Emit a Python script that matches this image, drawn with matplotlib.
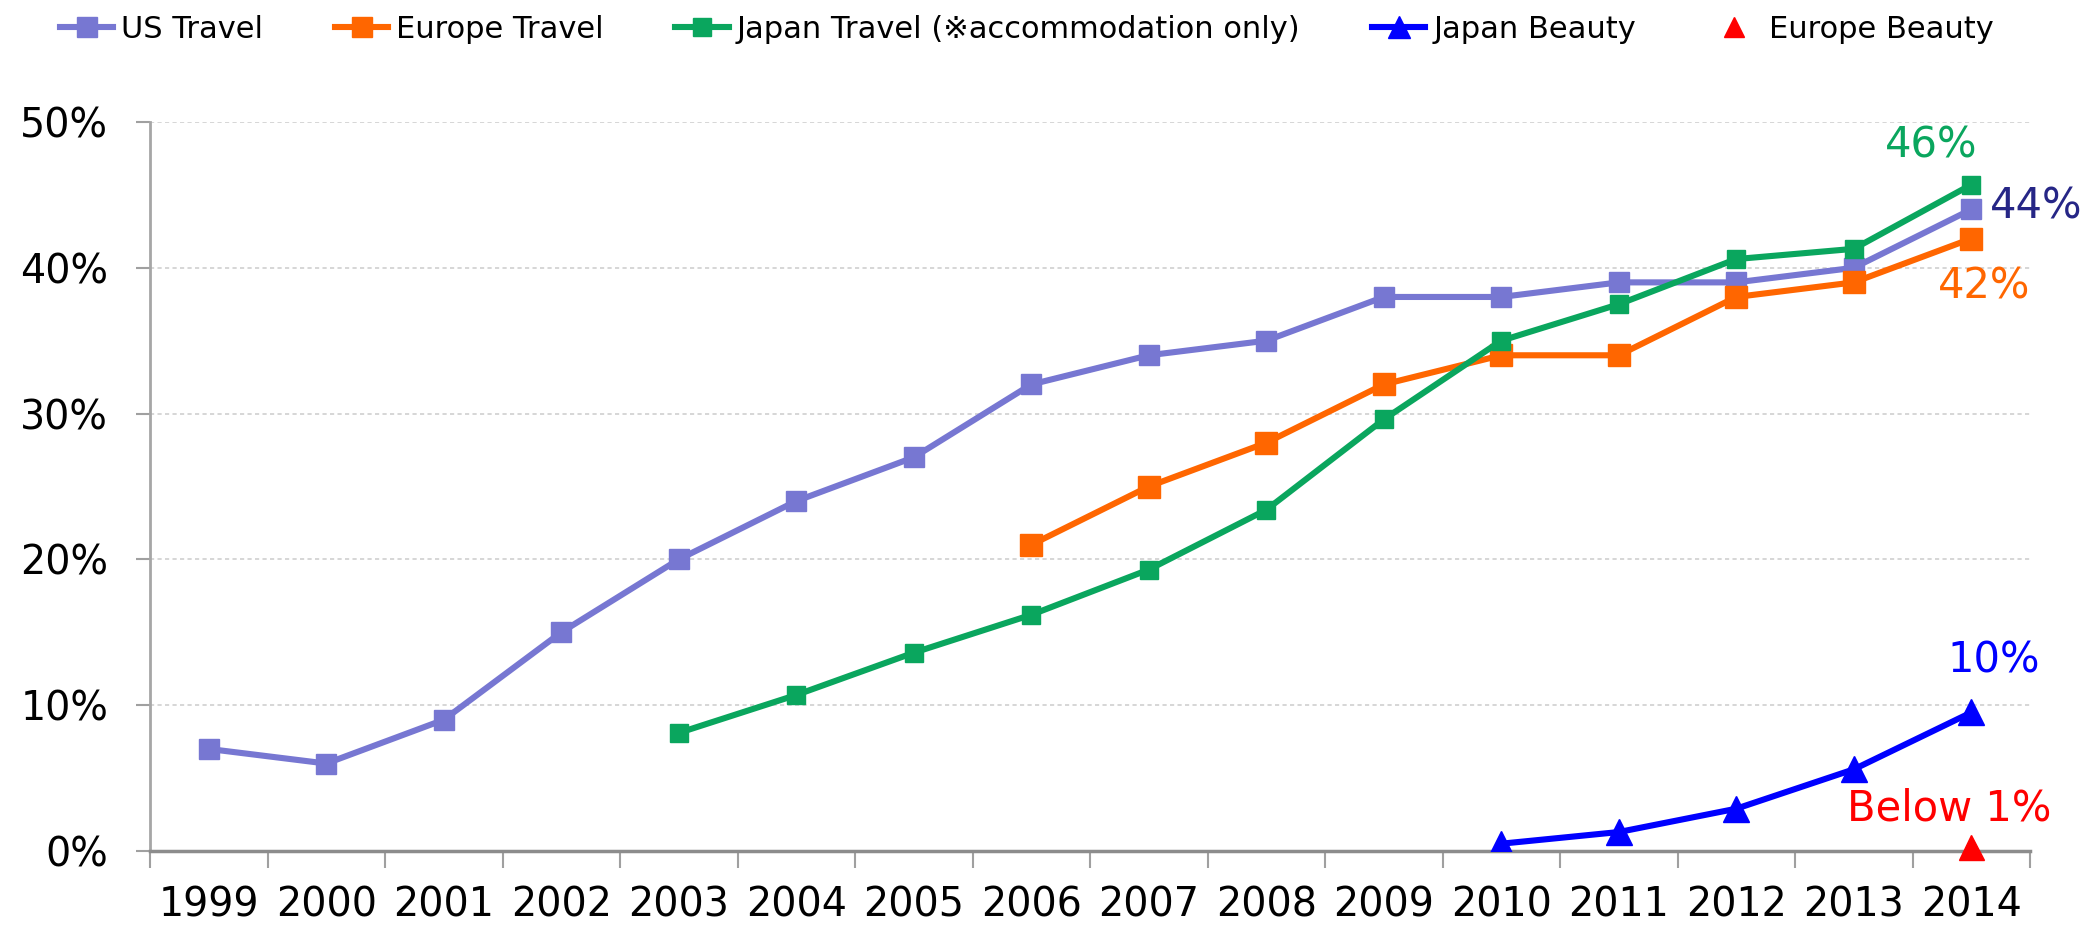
import matplotlib.pyplot as plt
import numpy as np
from matplotlib.lines import Line2D

years = [str(y) for y in range(1999, 2015)]

us_travel = [7, 6, 9, 15, 20, 24, 27, 32, 34, 35, 38, 38, 39, 39, 40, 44]
europe_years = years[7:]
europe_travel = [21, 25, 28, 32, 34, 34, 38, 39, 42]
japan_years = years[4:]
japan_travel = [8.1, 10.7, 13.6, 16.2, 19.3, 23.4, 29.6, 35.0, 37.5, 40.6, 41.3, 45.7]
jbeauty_years = years[11:]
japan_beauty = [0.5, 1.3, 2.9, 5.6, 9.5]
ebeauty_years = ['2014']
europe_beauty = [0.3]

c_us = '#7777D2'
c_eu = '#FF6600'
c_jp = '#0AA65E'
c_jb = '#0000FF'
c_eb = '#FF0000'

plt.rcParams['font.family'] = ['DejaVu Sans']
fig = plt.figure(figsize=(20.84, 9.25), dpi=100)
ax = fig.add_axes([150/2084, 1 - 851/925, (2030-150)/2084, (851-122)/925])

idx = {y: i for i, y in enumerate(years)}
def xs(labels):
    return [idx[y] for y in labels]

lw = 4.4
ax.plot(xs(years), us_travel, color=c_us, lw=lw, marker='s', ms=14.5, zorder=3)
ax.plot(xs(europe_years), europe_travel, color=c_eu, lw=lw, marker='s', ms=15.5, zorder=3)
ax.plot(xs(japan_years), japan_travel, color=c_jp, lw=lw, marker='s', ms=13.5, zorder=4)
ax.plot(xs(jbeauty_years), japan_beauty, color=c_jb, lw=lw, marker='^', ms=19, zorder=4)
ax.plot(xs(ebeauty_years), europe_beauty, color=c_eb, lw=0, marker='^', ms=18, zorder=4, clip_on=False)

ax.set_xlim(-0.5, len(years) - 0.5)
ax.set_ylim(0, 50)
ax.set_yticks(np.arange(0, 51, 10))
ax.set_yticklabels([f'{v}%' for v in range(0, 51, 10)], fontsize=28.5)
ax.set_xticks(range(len(years)))
ax.set_xticklabels(years, fontsize=28.5)
ax.set_xticks(np.arange(-0.5, len(years)), minor=True)
ax.tick_params(axis='x', which='major', length=0, pad=25)
ax.tick_params(axis='x', which='minor', length=12, width=1.5, color='#A0A0A0')
ax.tick_params(axis='y', length=10, width=1.5, color='#A0A0A0', pad=20)

for s in ['top', 'right']:
    ax.spines[s].set_visible(False)
ax.spines['left'].set_color('#A6A6A6')
ax.spines['bottom'].set_color('#8C8C8C')
ax.spines['left'].set_linewidth(2)
ax.spines['bottom'].set_linewidth(2.5)

for v in range(10, 51, 10):
    ax.axhline(v, color='#CFCFCF', lw=1.2, ls=(0, (2.5, 2)), zorder=1)

last = len(years) - 1
ax.text(last - 0.34, 48.4, '46%', color=c_jp, fontsize=30, ha='center', va='center')
ax.text(last + 0.16, 44.2, '44%', color='#262686', fontsize=30, ha='left', va='center')
ax.text(last + 0.5, 38.7, '42%', color=c_eu, fontsize=30, ha='right', va='center')
ax.text(last + 0.19, 13.1, '10%', color=c_jb, fontsize=30, ha='center', va='center')
ax.text(last - 0.19, 2.9, 'Below 1%', color=c_eb, fontsize=30, ha='center', va='center')

handles = [
    Line2D([], [], color=c_us, lw=lw, marker='s', ms=14),
    Line2D([], [], color=c_eu, lw=lw, marker='s', ms=14),
    Line2D([], [], color=c_jp, lw=lw, marker='s', ms=13),
    Line2D([], [], color=c_jb, lw=lw, marker='^', ms=16),
    Line2D([], [], color=c_eb, lw=0, marker='^', ms=15),
]
names = ['US Travel', 'Europe Travel', 'Japan Travel (※accommodation only)', 'Japan Beauty', 'Europe Beauty']
fig.legend(handles, names, loc='center left', bbox_to_anchor=(60/2084, 1 - 29/925), ncol=5, frameon=False,
           fontsize=22, handlelength=1.75, handletextpad=0.25, columnspacing=2.35,
           borderpad=0, borderaxespad=0)

fig.savefig('out.png', dpi=100)
